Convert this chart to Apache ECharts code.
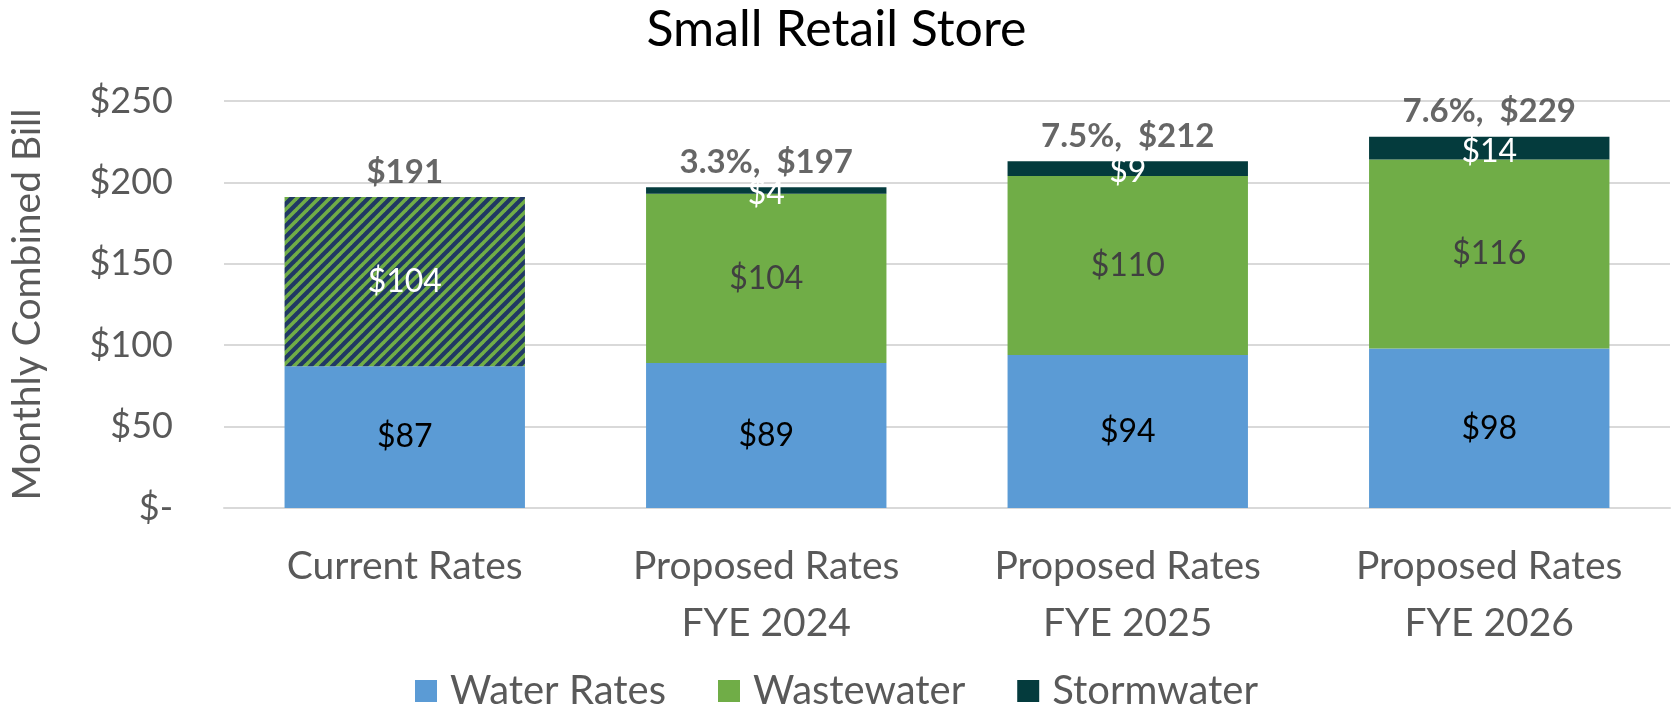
<!DOCTYPE html>
<html>
<head>
<meta charset="utf-8">
<script src="https://cdn.jsdelivr.net/npm/echarts@6/dist/echarts.min.js"></script>
<style>
  html, body { margin: 0; padding: 0; background: #fff; }
  #chart { width: 1673px; height: 709px; }
</style>
</head>
<body>
<div id="chart"></div>
<script>
// ---- Data ----
const categories = ['Current Rates', 'Proposed Rates\nFYE 2024', 'Proposed Rates\nFYE 2025', 'Proposed Rates\nFYE 2026'];
const waterRates = [87, 89, 94, 98];
const wastewater = [104, 104, 110, 116];
const stormwater = [null, 4, 9, 14];
const totals = [191, 197, 212, 229];
const pctChange = ['', '3.3%', '7.5%', '7.6%'];

const FONT = 'Lato';
const C_WATER = '#5B9BD5';
const C_WASTE = '#70AD47';
const C_STORM = '#043B3D';
const C_HATCH_BG = '#203864';

function makeHatch() {
  const s = 11;
  const c = document.createElement('canvas');
  c.width = s; c.height = s;
  const ctx = c.getContext('2d');
  ctx.fillStyle = C_HATCH_BG;
  ctx.fillRect(0, 0, s, s);
  ctx.strokeStyle = C_WASTE;
  ctx.lineWidth = 3.6;
  for (const k of [-s, 0, s]) {
    ctx.beginPath();
    ctx.moveTo(k - 1, s + 1);
    ctx.lineTo(k + s + 1, -1);
    ctx.stroke();
  }
  return c;
}
const hatch = makeHatch();

const stackTops = categories.map((_, i) => (waterRates[i] || 0) + (wastewater[i] || 0) + (stormwater[i] || 0));

const chart = echarts.init(document.getElementById('chart'), null, { renderer: 'canvas' });
chart.setOption({
  animation: false,
  title: {
    text: 'Small Retail Store',
    left: 'center',
    top: 0,
    textStyle: { fontFamily: FONT, fontSize: 50, fontWeight: 'normal', color: '#000' }
  },
  legend: {
    data: ['Water Rates', 'Wastewater', 'Stormwater'],
    bottom: -7,
    left: 'center',
    icon: 'rect',
    itemWidth: 22,
    itemHeight: 22,
    itemGap: 52,
    textStyle: { fontFamily: FONT, fontSize: 40, color: '#595959', padding: [0, 0, 0, 8] }
  },
  grid: { left: 208, right: 3, top: 101, bottom: 201 },
  xAxis: {
    type: 'category',
    data: categories,
    axisTick: { show: false },
    axisLine: { lineStyle: { color: '#D9D9D9', width: 2 } },
    axisLabel: {
      fontFamily: FONT, fontSize: 39, color: '#595959',
      lineHeight: 57, margin: 30, verticalAlign: 'top', interval: 0
    }
  },
  yAxis: {
    type: 'value',
    min: 0, max: 250, interval: 50,
    name: 'Monthly Combined Bill',
    nameLocation: 'middle',
    nameRotate: 90,
    nameGap: 177,
    nameTextStyle: { fontFamily: FONT, fontSize: 39, color: '#595959' },
    axisLine: { show: false },
    axisTick: { show: false },
    splitLine: { lineStyle: { color: '#D9D9D9', width: 2 } },
    axisLabel: {
      fontFamily: FONT, fontSize: 36, color: '#595959', margin: 51,
      formatter: v => v === 0 ? '$-' : '$' + v
    }
  },
  series: [
    {
      name: 'Water Rates',
      type: 'bar',
      stack: 'bill',
      barWidth: '66.5%',
      itemStyle: { color: C_WATER },
      label: {
        show: true, position: 'inside', fontFamily: FONT, fontSize: 32, color: '#000',
        formatter: p => '$' + p.value
      },
      data: waterRates
    },
    {
      name: 'Wastewater',
      type: 'bar',
      stack: 'bill',
      itemStyle: { color: C_WASTE },
      label: {
        show: true, position: 'inside', fontFamily: FONT, fontSize: 32, color: '#404040',
        formatter: p => '$' + p.value
      },
      data: wastewater.map((v, i) => i === 0 ? {
        value: v,
        itemStyle: { color: { image: hatch, repeat: 'repeat' } },
        label: { color: '#fff' }
      } : v)
    },
    {
      name: 'Stormwater',
      type: 'bar',
      stack: 'bill',
      itemStyle: { color: C_STORM },
      label: {
        show: true, position: 'inside', offset: [0, 3], fontFamily: FONT, fontSize: 32, color: '#fff',
        formatter: p => (p.value == null ? '' : '$' + p.value)
      },
      data: stormwater
    },
    {
      name: 'Total',
      type: 'scatter',
      symbolSize: 1,
      itemStyle: { color: 'rgba(0,0,0,0)' },
      label: {
        show: true, position: 'top', distance: 8,
        fontFamily: FONT, fontSize: 33, fontWeight: 'bold', color: '#404040',
        formatter: p => (pctChange[p.dataIndex] ? pctChange[p.dataIndex] + ',  ' : '') + '$' + totals[p.dataIndex]
      },
      data: stackTops
    }
  ]
});
</script>
</body>
</html>
